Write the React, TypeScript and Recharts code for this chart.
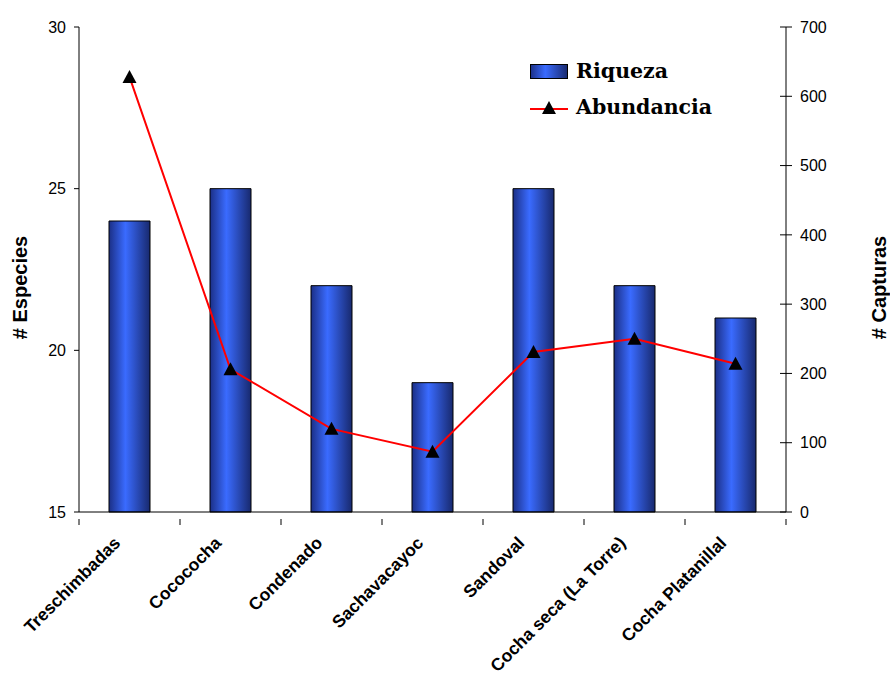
import React from "react";
import {
  ComposedChart,
  Bar,
  Line,
  XAxis,
  YAxis,
} from "recharts";

const sitios = [
  "Treschimbadas",
  "Cocococha",
  "Condenado",
  "Sachavacayoc",
  "Sandoval",
  "Cocha seca (La Torre)",
  "Cocha Platanillal",
];
const riqueza = [24, 25, 22, 19, 25, 22, 21];
const abundancia = [628, 206, 120, 87, 231, 250, 214];

const especiesTicks = [15, 20, 25, 30];
const capturasTicks = [0, 100, 200, 300, 400, 500, 600, 700];

const W = 890;
const H = 675;
const MARGIN = { top: 27, right: 44, bottom: 13, left: 19 };
const Y_W = 60;
const PLOT_W = W - MARGIN.left - MARGIN.right - 2 * Y_W;
const BAND = PLOT_W / sitios.length;

const data = sitios.map((name, i) => ({
  name,
  riqueza: riqueza[i],
  abundancia: abundancia[i],
}));

const FONT = "'Liberation Sans', Arial, sans-serif";

function CatTick(props: any) {
  const { x, y, payload, index } = props;
  const last = index === sitios.length - 1;
  return (
    <g>
      <line x1={x - BAND / 2} y1={y - 1} x2={x - BAND / 2} y2={y + 5} stroke="#000" />
      {last && (
        <line x1={x + BAND / 2} y1={y - 1} x2={x + BAND / 2} y2={y + 5} stroke="#000" />
      )}
      <text
        transform={`translate(${x - 8}, ${y + 24}) rotate(-45)`}
        textAnchor="end"
        fontFamily={FONT}
        fontWeight="bold"
        fontSize={17.5}
        fill="#000"
      >
        {payload.value}
      </text>
    </g>
  );
}

// right axis: tick line crosses the axis, label to the right
function CapTick(props: any) {
  const { x, y, payload } = props;
  // text x = axis + tickSize(6) + tickMargin(8)
  const ax = x - 14;
  return (
    <g>
      <line x1={ax - 6} y1={y} x2={ax + 6} y2={y} stroke="#000" />
      <text x={ax + 14} y={y} dy="0.36em" textAnchor="start" fontFamily={FONT} fontSize={16} fill="#000">
        {payload.value}
      </text>
    </g>
  );
}

function Titulo(props: any) {
  const { viewBox, value, cx } = props;
  const cy = viewBox.y + viewBox.height / 2 + 18;
  return (
    <text
      transform={`translate(${cx}, ${cy}) rotate(-90)`}
      textAnchor="middle"
      dominantBaseline="central"
      fontFamily={FONT}
      fontWeight="bold"
      fontSize={20}
      fill="#000"
    >
      {value}
    </text>
  );
}

function Triangle(props: any) {
  const { cx, cy } = props;
  if (cx == null || cy == null) return null;
  return (
    <path
      d={`M${cx},${cy - 7} L${cx + 7},${cy + 6} L${cx - 7},${cy + 6} Z`}
      fill="#000"
    />
  );
}

function Legenda() {
  return (
    <div
      style={{
        position: "absolute",
        left: 530,
        top: 53,
        fontFamily: "'DejaVu Serif', serif",
        fontWeight: "bold",
        fontSize: 20.5,
        color: "#000",
      }}
    >
      <div style={{ display: "flex", alignItems: "center", height: 36 }}>
        <svg width={40} height={18}>
          <defs>
            <linearGradient id="legGrad" x1="0" y1="0" x2="1" y2="0">
              <stop offset="0%" stopColor="#1b2f86" />
              <stop offset="40%" stopColor="#3a6bff" />
              <stop offset="100%" stopColor="#18296e" />
            </linearGradient>
          </defs>
          <rect x={0.5} y={2.5} width={37} height={14} fill="url(#legGrad)" stroke="#000" />
        </svg>
        <span style={{ marginLeft: 6 }}>Riqueza</span>
      </div>
      <div style={{ display: "flex", alignItems: "center", height: 36 }}>
        <svg width={40} height={18}>
          <line x1={0} y1={11} x2={38} y2={11} stroke="#ff0000" strokeWidth={2} />
          <path d="M19,3 L26,16 L12,16 Z" fill="#000" />
        </svg>
        <span style={{ marginLeft: 6 }}>Abundancia</span>
      </div>
    </div>
  );
}

export default function App() {
  return (
    <div style={{ position: "absolute", left: 0, top: 0, width: W, height: H, background: "#fff" }}>
      <ComposedChart width={W} height={H} data={data} margin={MARGIN}>
        <defs>
          <linearGradient id="barGrad" x1="0" y1="0" x2="1" y2="0">
            <stop offset="0%" stopColor="#1b2f86" />
            <stop offset="40%" stopColor="#3a6bff" />
            <stop offset="100%" stopColor="#18296e" />
          </linearGradient>
        </defs>
        <XAxis
          dataKey="name"
          interval={0}
          height={150}
          stroke="#000"
          tickLine={false}
          tick={<CatTick />}
        />
        <YAxis
          yAxisId="esp"
          width={Y_W}
          domain={[15, 30]}
          ticks={especiesTicks}
          stroke="#000"
          tickSize={5}
          tickMargin={8}
          tick={{ fill: "#000", fontSize: 16, fontFamily: FONT }}
          label={<Titulo value="# Especies" cx={20} />}
        />
        <YAxis
          yAxisId="cap"
          orientation="right"
          width={Y_W}
          domain={[0, 700]}
          ticks={capturasTicks}
          stroke="#000"
          tickSize={6}
          tickMargin={8}
          tickLine={false}
          tick={<CapTick />}
          label={<Titulo value="# Capturas" cx={879} />}
        />
        <Bar
          yAxisId="esp"
          dataKey="riqueza"
          barSize={41}
          fill="url(#barGrad)"
          stroke="#000"
          strokeWidth={1}
          isAnimationActive={false}
        />
        <Line
          yAxisId="cap"
          dataKey="abundancia"
          stroke="#ff0000"
          strokeWidth={2}
          dot={<Triangle />}
          activeDot={false}
          isAnimationActive={false}
        />
      </ComposedChart>
      <Legenda />
    </div>
  );
}
